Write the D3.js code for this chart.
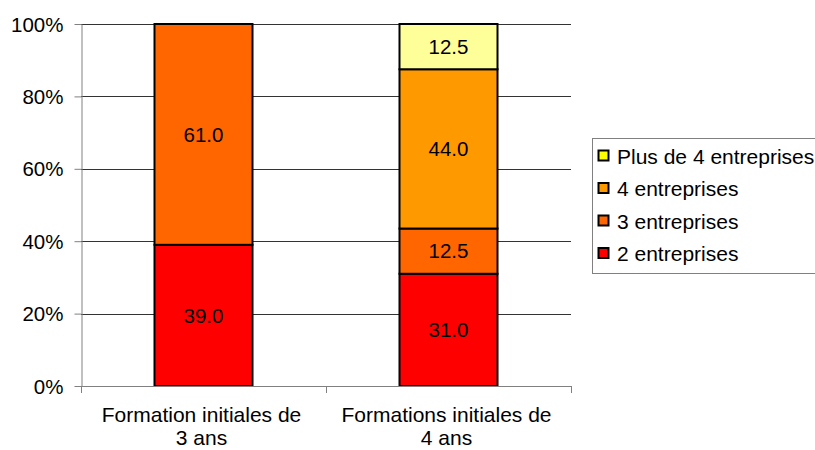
<!DOCTYPE html>
<html><head><meta charset="utf-8">
<script src="https://cdn.jsdelivr.net/npm/d3@7"></script>
<style>body{margin:0;background:#fff}text{font-family:"Liberation Sans",Arial,sans-serif}</style>
</head><body><svg id="c" width="815" height="450"></svg>
<script>
const categories = [["Formation initiales de","3 ans"],["Formations initiales de","4 ans"]];
const seriesNames = ["2 entreprises","3 entreprises","4 entreprises","Plus de 4 entreprises"];
const seriesColors = ["#FF0000","#FF6600","#FF9900","#FFFF99"];
const legendColors = ["#FF0000","#FF6600","#FF9900","#FFFF00"];
const v2 = [39.0, 31.0];
const v3 = [61.0, 12.5];
const v4 = [0, 44.0];
const vPlus = [0, 12.5];
const yTicks = [0,20,40,60,80,100];

const svg = d3.select("#c");
const L=81,R=571,T=24,B=386;
const FS=21;
const x = d3.scaleBand().domain([0,1]).range([L,R]).paddingInner(0).paddingOuter(0);
const y = d3.scaleLinear().domain([0,100]).range([B,T]);

// grid
svg.append("g").selectAll("line").data(yTicks.slice(1)).join("line")
 .attr("x1",L).attr("x2",R).attr("y1",d=>Math.round(y(d))+0.5).attr("y2",d=>Math.round(y(d))+0.5)
 .attr("stroke","#333").attr("stroke-width",1);
const yAxis = d3.axisLeft(y).tickValues(yTicks).tickFormat(d=>d+"%").tickSize(7).tickSizeOuter(0);
const ga = svg.append("g").attr("transform",`translate(${L+0.5},0)`).call(yAxis);
ga.select(".domain").attr("stroke","#808080");
ga.selectAll(".tick line").attr("stroke","#808080");
ga.selectAll("text").attr("font-size",20.5).attr("fill","#000").attr("x",-18).attr("dy","0.35em");

// bars
const stacked = d3.stack().keys([0,1,2,3]).value((d,k)=>[v2,v3,v4,vPlus][k][d])([0,1]);
const bw = x.bandwidth()*0.4;
stacked.forEach((s,k)=>{
  s.forEach((seg,i)=>{
    if(seg[1]-seg[0]<=0) return;
    const cx = x(i)+x.bandwidth()/2;
    svg.append("rect").attr("x",cx-bw/2).attr("y",y(seg[1])).attr("width",bw).attr("height",y(seg[0])-y(seg[1]))
      .attr("fill",seriesColors[k]).attr("stroke","#000").attr("stroke-width",2);
    svg.append("text").attr("x",cx).attr("y",(y(seg[0])+y(seg[1]))/2).attr("dy","0.35em")
      .attr("text-anchor","middle").attr("font-size",20.5).text((seg[1]-seg[0]).toFixed(1));
  });
});

// x axis
svg.append("line").attr("x1",L).attr("x2",R).attr("y1",B+0.5).attr("y2",B+0.5).attr("stroke","#808080");
[0,1,2].forEach(i=>{
  const xx = L + i*x.bandwidth();
  svg.append("line").attr("x1",xx+0.5).attr("x2",xx+0.5).attr("y1",B).attr("y2",B+7).attr("stroke","#808080");
});
categories.forEach((lines,i)=>{
  const t = svg.append("text").attr("text-anchor","middle").attr("font-size",FS);
  lines.forEach((ln,j)=>t.append("tspan").attr("x",x(i)+x.bandwidth()/2-2).attr("y",422+j*23).text(ln));
});

// legend
const lg = svg.append("g");
lg.append("rect").attr("x",592.5).attr("y",138.5).attr("width",260).attr("height",135).attr("fill","#fff").attr("stroke","#808080");
const order=[3,2,1,0];
order.forEach((k,j)=>{
  const yy = 155.5 + j*32.5;
  lg.append("rect").attr("x",598.5).attr("y",yy-5).attr("width",10).attr("height",10).attr("fill",legendColors[k]).attr("stroke","#000").attr("stroke-width",2);
  lg.append("text").attr("x",617).attr("y",yy+1).attr("dy","0.35em").attr("font-size",FS).text(seriesNames[k]);
});
</script></body></html>
